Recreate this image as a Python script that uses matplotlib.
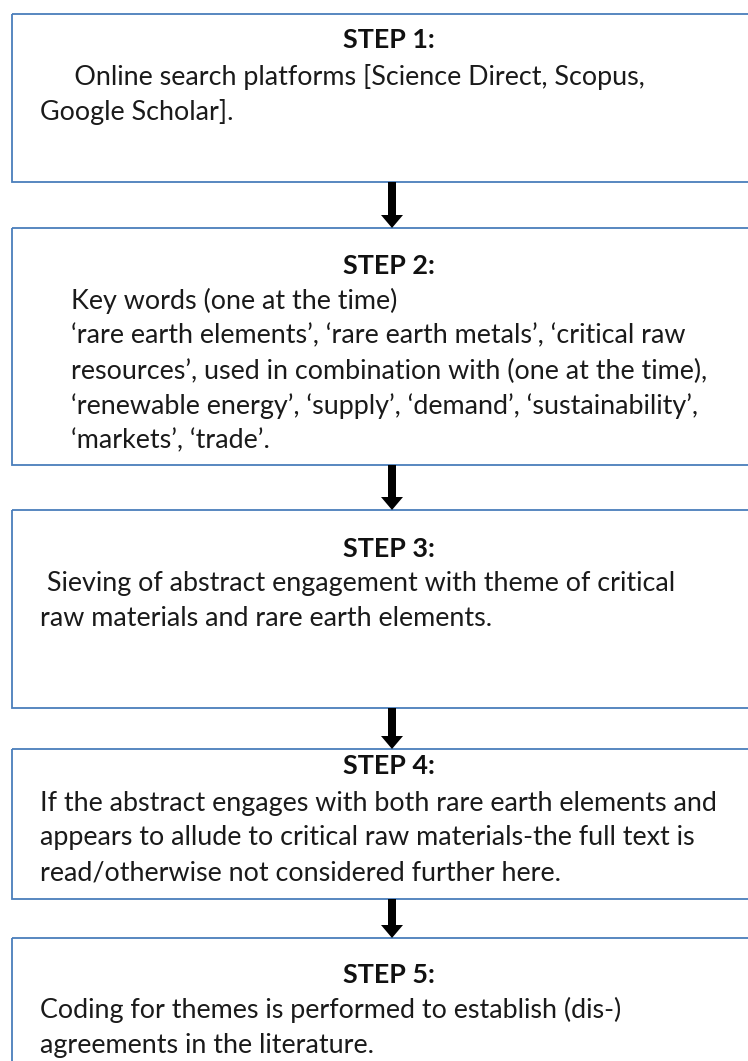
import matplotlib.pyplot as plt
from matplotlib.patches import Rectangle, FancyArrow

W, H = 748, 1061

titles = ["STEP 1:", "STEP 2:", "STEP 3:", "STEP 4:", "STEP 5:"]
bodies = [
    ["     Online search platforms [Science Direct, Scopus,",
     "Google Scholar]."],
    ["Key words (one at the time)",
     "\u2018rare earth elements\u2019, \u2018rare earth metals\u2019, \u2018critical raw",
     "resources\u2019, used in combination with (one at the time),",
     "\u2018renewable energy\u2019, \u2018supply\u2019, \u2018demand\u2019, \u2018sustainability\u2019,",
     "\u2018markets\u2019, \u2018trade\u2019."],
    [" Sieving of abstract engagement with theme of critical",
     "raw materials and rare earth elements."],
    ["If the abstract engages with both rare earth elements and",
     "appears to allude to critical raw materials-the full text is",
     "read/otherwise not considered further here."],
    ["Coding for themes is performed to establish (dis-)",
     "agreements in the literature."],
]

# layout in pixels
box_top = [14, 228, 510, 749, 938]
box_bot = [182, 465, 708, 899, 1075]
title_y = [40, 266, 549, 766, 975]
first_y = [77, 301, 584, 803, 1010]
body_x = [40, 71, 40, 40, 40]
line_gap = 35
box_left = 12
arrow_x = 392
title_x = 389

fam = ["Lato", "DejaVu Sans"]
fs = 19.4

fig = plt.figure(figsize=(W / 100, H / 100), dpi=100)
ax = fig.add_axes([0, 0, 1, 1])
ax.set_xlim(0, W)
ax.set_ylim(H, 0)
ax.axis("off")

for i in range(len(titles)):
    ax.add_patch(Rectangle((box_left, box_top[i]), W + 20 - box_left,
                           box_bot[i] - box_top[i], fill=False,
                           edgecolor="#4a7ebb", linewidth=1.3))
    ax.text(title_x, title_y[i], titles[i], ha="center", va="center",
            fontsize=fs, fontweight="bold", family=fam, color="#111111")
    for j, line in enumerate(bodies[i]):
        ax.text(body_x[i], first_y[i] + line_gap * j, line,
                ha="left", va="center", fontsize=fs, family=fam,
                color="#1a1a1a")

for i in range(len(titles) - 1):
    y0 = box_bot[i]
    length = box_top[i + 1] - y0
    ax.add_patch(FancyArrow(arrow_x, y0, 0, length, width=8,
                            head_width=22, head_length=13,
                            length_includes_head=True, color="black",
                            linewidth=0))

fig.savefig("out.png", dpi=100)
